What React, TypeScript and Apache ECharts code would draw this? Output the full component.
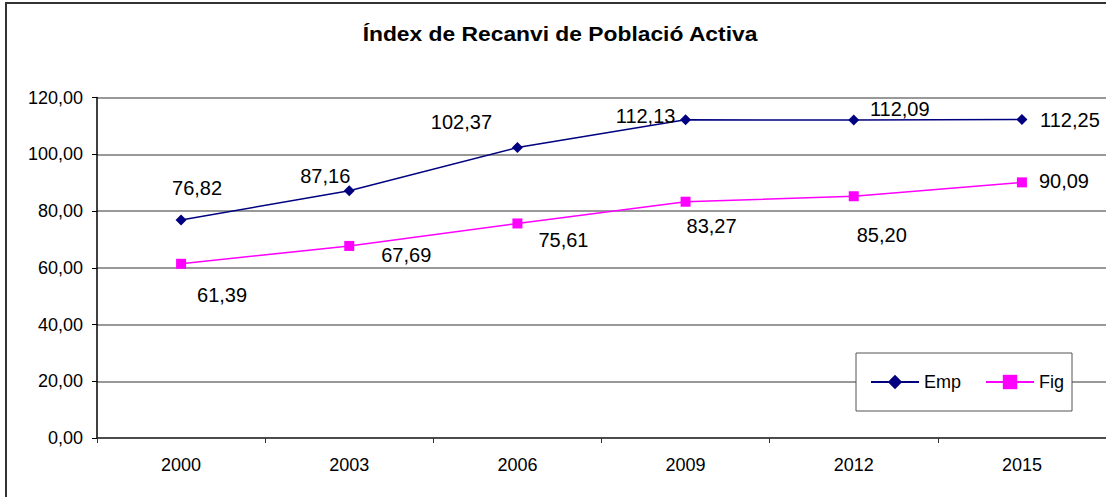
import React, { useEffect, useRef } from "react";
import * as echarts from "echarts";

const categories = ["2000", "2003", "2006", "2009", "2012", "2015"];
const empValues = [76.82, 87.16, 102.37, 112.13, 112.09, 112.25];
const figValues = [61.39, 67.69, 75.61, 83.27, 85.2, 90.09];
const yTicks = { min: 0, max: 120, interval: 20 };

// label placement offsets (styling) relative to each point
const empLabelOffsets = [
  [16, -32],
  [-24, -15],
  [-56, -26],
  [-40, -4],
  [46, -11],
  [48, 1],
];
const figLabelOffsets = [
  [41, 31],
  [57, 9],
  [46, 17],
  [26, 24],
  [28, 39],
  [42, -1],
];

const fmt = (v: number) => v.toFixed(2).replace(".", ",");
const FONT = "'Liberation Sans', Arial, sans-serif";

export default function App() {
  const ref = useRef<HTMLDivElement>(null);
  useEffect(() => {
    if (!ref.current) return;
    const chart = echarts.init(ref.current, undefined, { renderer: "svg" });
    const mkData = (vals: number[], offs: number[][]) =>
      vals.map((v, i) => ({
        value: v,
        label: { offset: offs[i] },
      }));
    chart.setOption({
      animation: false,
      backgroundColor: "#ffffff",
      textStyle: { fontFamily: FONT },
      graphic: [
        {
          type: "rect",
          shape: { x: 6, y: 3, width: 1200, height: 600 },
          style: { fill: "none", stroke: "#333333", lineWidth: 2 },
          silent: true,
        },
        {
          type: "text",
          x: 560,
          y: 34,
          scaleX: 1.17,
          style: {
            text: "Índex de Recanvi de Població Activa",
            fontFamily: FONT,
            fontWeight: "bold",
            fontSize: 19.5,
            fill: "#000000",
            align: "center",
            verticalAlign: "middle",
          },
        },
      ],
      grid: { left: 97, top: 97.5, width: 1010, bottom: 59 },
      legend: {
        left: 856,
        top: 353,
        orient: "horizontal",
        padding: [20, 8, 20, 14],
        itemGap: 24,
        itemWidth: 48,
        itemHeight: 18,
        borderColor: "#555555",
        borderWidth: 1,
        backgroundColor: "#ffffff",
        textStyle: { fontFamily: FONT, fontSize: 18, color: "#000" },
        data: ["Emp", "Fig"],
      },
      xAxis: {
        type: "category",
        data: categories,
        boundaryGap: true,
        axisLine: { lineStyle: { color: "#333333", width: 1.5 } },
        axisTick: { show: true, length: 5, inside: false, lineStyle: { color: "#333333" } },
        axisLabel: { fontFamily: FONT, fontSize: 18, color: "#000", margin: 18 },
        splitLine: { show: false },
      },
      yAxis: {
        type: "value",
        min: yTicks.min,
        max: yTicks.max,
        interval: yTicks.interval,
        axisLine: { show: true, lineStyle: { color: "#000000", width: 1.5 } },
        axisTick: { show: true, length: 5, lineStyle: { color: "#000000" } },
        axisLabel: {
          fontFamily: FONT,
          fontSize: 18,
          color: "#000",
          margin: 14,
          formatter: (v: number) => fmt(v),
        },
        splitLine: { show: true, lineStyle: { color: "#777777", width: 1.5 } },
      },
      series: [
        {
          name: "Emp",
          type: "line",
          data: mkData(empValues, empLabelOffsets),
          symbol: "diamond",
          symbolSize: 11,
          color: "#000080",
          lineStyle: { color: "#000080", width: 1.5 },
          itemStyle: { color: "#000080" },
          label: {
            show: true,
            position: "inside",
            fontFamily: FONT,
            fontSize: 20,
            color: "#000",
            formatter: (p: any) => fmt(p.value),
          },
          z: 3,
        },
        {
          name: "Fig",
          type: "line",
          data: mkData(figValues, figLabelOffsets),
          symbol: "rect",
          symbolSize: 10,
          color: "#ff00ff",
          lineStyle: { color: "#ff00ff", width: 1.5 },
          itemStyle: { color: "#ff00ff" },
          label: {
            show: true,
            position: "inside",
            fontFamily: FONT,
            fontSize: 20,
            color: "#000",
            formatter: (p: any) => fmt(p.value),
          },
          z: 3,
        },
      ],
    });
    return () => chart.dispose();
  }, []);
  return (
    <div
      ref={ref}
      style={{ position: "absolute", left: 0, top: 0, width: 1106, height: 497 }}
    />
  );
}
